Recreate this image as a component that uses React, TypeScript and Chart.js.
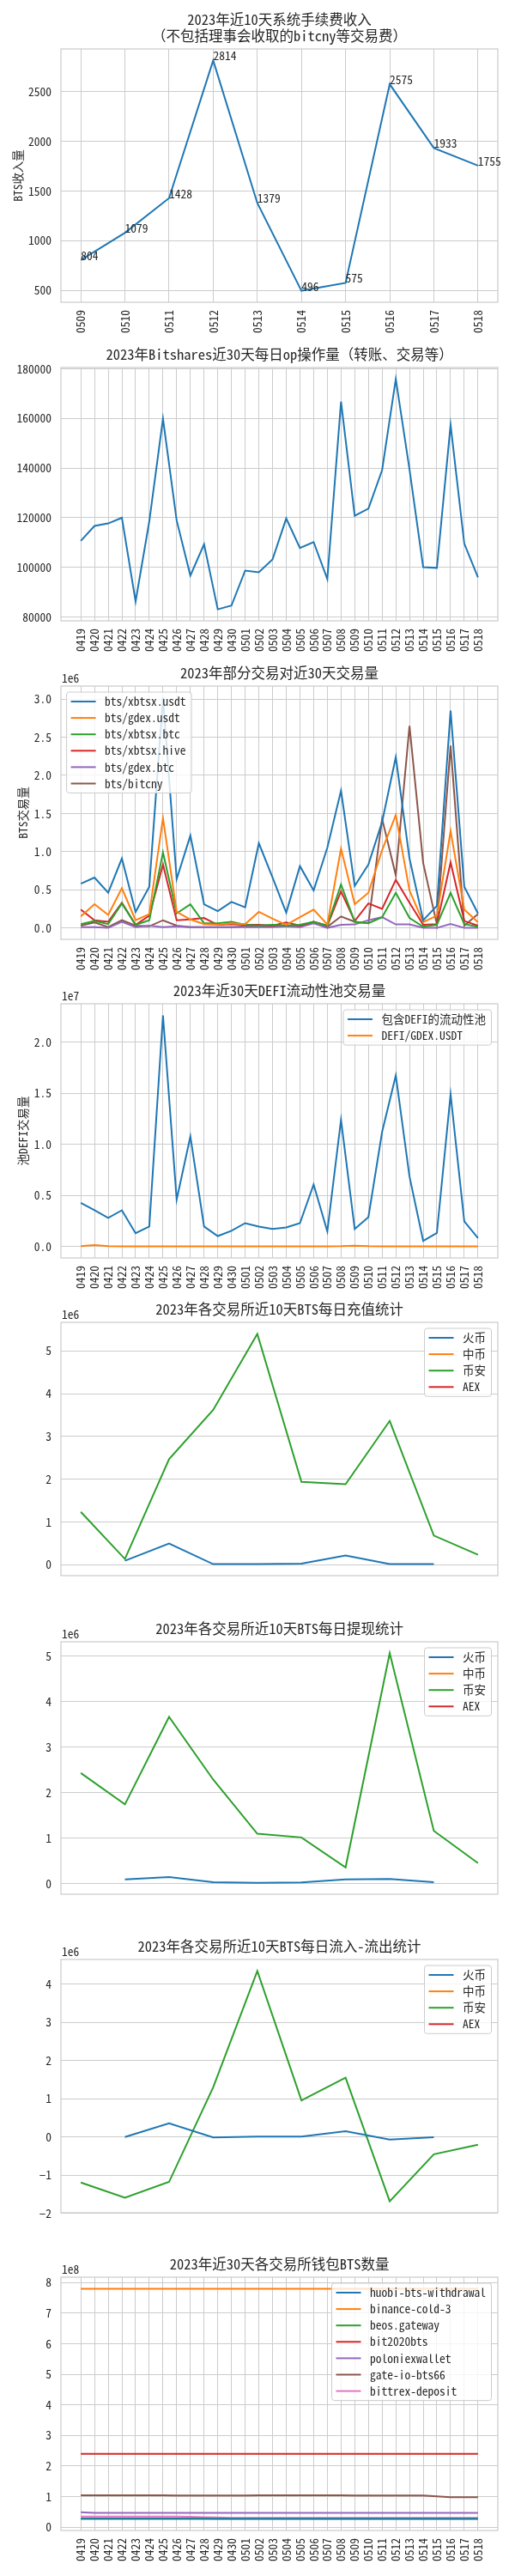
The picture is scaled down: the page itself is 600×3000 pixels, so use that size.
import React, { useEffect, useRef } from 'react';
import { Chart, registerables } from 'chart.js';

Chart.register(...registerables);

const FONT = "'Noto Sans Mono CJK SC', 'Noto Sans CJK SC', 'DejaVu Sans', sans-serif";
const TEXT = '#262626';
const GRID = '#cccccc';
const COLORS = ['#1f77b4', '#ff7f0e', '#2ca02c', '#d62728', '#9467bd', '#8c564b', '#e377c2'];
const PLOT_L = 71;
const PLOT_R = 580;

Chart.defaults.font.family = FONT;
Chart.defaults.color = TEXT;

// ---------- data ----------
const days10 = ['0509', '0510', '0511', '0512', '0513', '0514', '0515', '0516', '0517', '0518'];
const days30 = [
  '0419', '0420', '0421', '0422', '0423', '0424', '0425', '0426', '0427', '0428', '0429', '0430',
  '0501', '0502', '0503', '0504', '0505', '0506', '0507', '0508', '0509', '0510', '0511', '0512',
  '0513', '0514', '0515', '0516', '0517', '0518',
];

const feeIncome = [804, 1079, 1428, 2814, 1379, 496, 575, 2575, 1933, 1755];

const opCount = [
  110700, 116700, 117700, 120000, 86300, 118500, 159900, 118900, 96700, 109300, 83100, 84600,
  98700, 98050, 103200, 119700, 107800, 110200, 95300, 166800, 120800, 123700, 139200, 175900,
  139500, 100100, 99800, 157400, 109600, 96000,
];

// 1e6 units
const pairXbtsxUsdt = [0.58, 0.66, 0.46, 0.91, 0.21, 0.54, 3.02, 0.64, 1.21, 0.31, 0.22, 0.34, 0.27, 1.11, 0.66, 0.20, 0.81, 0.49, 1.05, 1.80, 0.55, 0.83, 1.39, 2.24, 0.91, 0.10, 0.29, 2.85, 0.54, 0.19];
const pairGdexUsdt = [0.15, 0.31, 0.17, 0.52, 0.10, 0.18, 1.44, 0.21, 0.11, 0.05, 0.04, 0.06, 0.05, 0.21, 0.12, 0.04, 0.14, 0.24, 0.045, 1.04, 0.31, 0.46, 1.02, 1.48, 0.49, 0.075, 0.16, 1.27, 0.24, 0.075];
const pairXbtsxBtc = [0.05, 0.09, 0.05, 0.32, 0.04, 0.10, 0.99, 0.19, 0.31, 0.06, 0.06, 0.08, 0.04, 0.03, 0.04, 0.03, 0.04, 0.08, 0.03, 0.57, 0.08, 0.06, 0.14, 0.46, 0.13, 0.015, 0.04, 0.46, 0.05, 0.015];
const pairXbtsxHive = [0.24, 0.10, 0.08, 0.33, 0.04, 0.16, 0.83, 0.10, 0.11, 0.13, 0.04, 0.05, 0.04, 0.04, 0.03, 0.07, 0.03, 0.08, 0.03, 0.48, 0.09, 0.32, 0.25, 0.63, 0.33, 0.04, 0.05, 0.86, 0.09, 0.03];
const pairGdexBtc = [0.01, 0.01, 0.0, 0.08, 0.01, 0.03, 0.01, 0.02, 0.01, 0.01, 0.01, 0.01, 0.01, 0.01, 0.01, 0.02, 0.01, 0.06, 0.0, 0.04, 0.045, 0.10, 0.14, 0.045, 0.045, 0.0, 0.0, 0.05, 0.0, 0.0];
const pairBitcny = [0.03, 0.07, 0.01, 0.10, 0.03, 0.02, 0.10, 0.03, 0.01, 0.01, 0.01, 0.01, 0.02, 0.02, 0.02, 0.03, 0.02, 0.08, 0.015, 0.15, 0.08, 0.06, 1.43, 0.69, 2.65, 0.85, 0.045, 2.39, 0.03, 0.18];

// 1e7 units
const poolDefiAll = [0.428, 0.355, 0.280, 0.355, 0.131, 0.196, 2.26, 0.46, 1.077, 0.196, 0.103, 0.154, 0.229, 0.196, 0.173, 0.187, 0.229, 0.607, 0.148, 1.24, 0.173, 0.288, 1.12, 1.673, 0.685, 0.056, 0.134, 1.488, 0.246, 0.084];
const poolDefiGdexUsdt = [0.004, 0.014, 0.004, 0.002, 0.002, 0.002, 0.002, 0.002, 0.002, 0.002, 0.002, 0.002, 0.002, 0.002, 0.002, 0.002, 0.002, 0.002, 0.002, 0.004, 0.009, 0.004, 0.002, 0.002, 0.002, 0.002, 0.002, 0.002, 0.002, 0.002];

// 1e6 units, 10 days
const depHuobi = [null, 0.093, 0.494, 0.013, 0.013, 0.027, 0.214, 0.013, 0.013, null];
const depZhongbi = [null, null, null, null, null, null, null, null, null, null];
const depBinance = [1.235, 0.134, 2.47, 3.62, 5.40, 1.936, 1.883, 3.364, 0.681, 0.234];
const depAex = [null, null, null, null, null, null, null, null, null, null];

const wdHuobi = [null, 0.094, 0.144, 0.031, 0.019, 0.025, 0.094, 0.100, 0.031, null];
const wdZhongbi = [null, null, null, null, null, null, null, null, null, null];
const wdBinance = [2.431, 1.742, 3.665, 2.287, 1.096, 1.015, 0.357, 5.063, 1.159, 0.451];
const wdAex = [null, null, null, null, null, null, null, null, null, null];

const netHuobi = [null, 0.0, 0.36, -0.01, 0.015, 0.015, 0.15, -0.067, -0.007, null];
const netZhongbi = [null, null, null, null, null, null, null, null, null, null];
const netBinance = [-1.189, -1.585, -1.174, 1.30, 4.344, 0.957, 1.555, -1.68, -0.45, -0.20];
const netAex = [null, null, null, null, null, null, null, null, null, null];

// 1e8 units, 30 days
const walHuobi = [0.27, 0.27, 0.27, 0.27, 0.27, 0.27, 0.27, 0.27, 0.27, 0.27, 0.27, 0.27, 0.27, 0.27, 0.27, 0.27, 0.27, 0.27, 0.27, 0.27, 0.27, 0.27, 0.27, 0.27, 0.27, 0.27, 0.27, 0.27, 0.27, 0.27];
const walBinanceCold = [7.80, 7.80, 7.80, 7.80, 7.80, 7.80, 7.80, 7.80, 7.80, 7.80, 7.80, 7.80, 7.80, 7.80, 7.80, 7.80, 7.80, 7.80, 7.80, 7.80, 7.80, 7.80, 7.80, 7.80, 7.80, 7.80, 7.80, 7.80, 7.80, 7.80];
const walBeos = [0.29, 0.29, 0.29, 0.29, 0.29, 0.29, 0.29, 0.29, 0.29, 0.29, 0.28, 0.28, 0.28, 0.28, 0.28, 0.28, 0.28, 0.28, 0.28, 0.28, 0.28, 0.28, 0.28, 0.28, 0.28, 0.28, 0.28, 0.28, 0.28, 0.28];
const walBit2020 = [2.40, 2.40, 2.40, 2.40, 2.40, 2.40, 2.40, 2.40, 2.40, 2.40, 2.40, 2.40, 2.40, 2.40, 2.40, 2.40, 2.40, 2.40, 2.40, 2.40, 2.40, 2.40, 2.40, 2.40, 2.40, 2.40, 2.40, 2.40, 2.40, 2.40];
const walPoloniex = [0.49, 0.47, 0.47, 0.47, 0.47, 0.47, 0.47, 0.47, 0.47, 0.47, 0.47, 0.47, 0.47, 0.47, 0.47, 0.47, 0.47, 0.47, 0.47, 0.47, 0.47, 0.47, 0.47, 0.47, 0.47, 0.47, 0.47, 0.47, 0.47, 0.47];
const walGateio = [1.045, 1.045, 1.045, 1.045, 1.045, 1.045, 1.045, 1.04, 1.04, 1.04, 1.04, 1.04, 1.04, 1.045, 1.045, 1.045, 1.045, 1.045, 1.045, 1.045, 1.04, 1.04, 1.04, 1.035, 1.035, 1.035, 1.01, 0.985, 0.985, 0.98];
const walBittrex = [0.35, 0.35, 0.35, 0.35, 0.35, 0.35, 0.35, 0.35, 0.34, 0.33, 0.32, 0.31, 0.31, 0.31, 0.31, 0.31, 0.31, 0.31, 0.31, 0.31, 0.31, 0.31, 0.31, 0.31, 0.31, 0.31, 0.31, 0.31, 0.31, 0.31];

// ---------- tick values ----------
const yTicksFee = [500, 1000, 1500, 2000, 2500];
const yTicksOps = [80000, 100000, 120000, 140000, 160000, 180000];
const yTicksPairs = [0, 0.5, 1.0, 1.5, 2.0, 2.5, 3.0];
const yTicksPool = [0, 0.5, 1.0, 1.5, 2.0];
const yTicksDep = [0, 1, 2, 3, 4, 5];
const yTicksWd = [0, 1, 2, 3, 4, 5];
const yTicksNet = [-2, -1, 0, 1, 2, 3, 4];
const yTicksWal = [0, 1, 2, 3, 4, 5, 6, 7, 8];

type Series = { label: string; data: (number | null)[] };
type Cfg = {
  top: number;
  height: number;
  plotTop: number;
  plotBottom: number;
  title: string[];
  labels: string[] | null;
  series: Series[];
  yTicks: number[];
  yFmt: (v: number) => string;
  offset?: string;
  yLabel?: { text: string; x: number };
  legend?: 'ul' | 'ur';
  annotate?: boolean;
  xGrid: boolean;
};

const fmtInt = (v: number) => (v < 0 ? '\u2212' + String(Math.abs(v)) : String(v));
const fmt1 = (v: number) => v.toFixed(1);

const exch = (a: (number | null)[], b: (number | null)[], c: (number | null)[], d: (number | null)[]): Series[] => [
  { label: '火币', data: a },
  { label: '中币', data: b },
  { label: '币安', data: c },
  { label: 'AEX', data: d },
];

const CHARTS: Cfg[] = [
  {
    top: 0, height: 398, plotTop: 57, plotBottom: 352,
    title: ['2023年近10天系统手续费收入', '（不包括理事会收取的bitcny等交易费）'],
    labels: days10,
    series: [{ label: 'fee', data: feeIncome }],
    yTicks: yTicksFee, yFmt: fmtInt,
    yLabel: { text: 'BTS收入量', x: 21 },
    annotate: true, xGrid: true,
  },
  {
    top: 398, height: 370, plotTop: 428, plotBottom: 723,
    title: ['2023年Bitshares近30天每日op操作量（转账、交易等）'],
    labels: days30,
    series: [{ label: 'op', data: opCount }],
    yTicks: yTicksOps, yFmt: fmtInt, xGrid: true,
  },
  {
    top: 768, height: 372, plotTop: 799, plotBottom: 1094,
    title: ['2023年部分交易对近30天交易量'],
    labels: days30,
    series: [
      { label: 'bts/xbtsx.usdt', data: pairXbtsxUsdt },
      { label: 'bts/gdex.usdt', data: pairGdexUsdt },
      { label: 'bts/xbtsx.btc', data: pairXbtsxBtc },
      { label: 'bts/xbtsx.hive', data: pairXbtsxHive },
      { label: 'bts/gdex.btc', data: pairGdexBtc },
      { label: 'bts/bitcny', data: pairBitcny },
    ],
    yTicks: yTicksPairs, yFmt: fmt1, offset: '1e6',
    yLabel: { text: 'BTS交易量', x: 27 }, legend: 'ul', xGrid: true,
  },
  {
    top: 1140, height: 370, plotTop: 1169, plotBottom: 1465,
    title: ['2023年近30天DEFI流动性池交易量'],
    labels: days30,
    series: [
      { label: '包含DEFI的流动性池', data: poolDefiAll },
      { label: 'DEFI/GDEX.USDT', data: poolDefiGdexUsdt },
    ],
    yTicks: yTicksPool, yFmt: fmt1, offset: '1e7',
    yLabel: { text: '池DEFI交易量', x: 27 }, legend: 'ur', xGrid: true,
  },
  {
    top: 1510, height: 370, plotTop: 1540, plotBottom: 1835,
    title: ['2023年各交易所近10天BTS每日充值统计'],
    labels: null,
    series: exch(depHuobi, depZhongbi, depBinance, depAex),
    yTicks: yTicksDep, yFmt: fmtInt, offset: '1e6', legend: 'ur', xGrid: false,
  },
  {
    top: 1880, height: 375, plotTop: 1912, plotBottom: 2206,
    title: ['2023年各交易所近10天BTS每日提现统计'],
    labels: null,
    series: exch(wdHuobi, wdZhongbi, wdBinance, wdAex),
    yTicks: yTicksWd, yFmt: fmtInt, offset: '1e6', legend: 'ur', xGrid: false,
  },
  {
    top: 2255, height: 370, plotTop: 2282, plotBottom: 2577,
    title: ['2023年各交易所近10天BTS每日流入-流出统计'],
    labels: null,
    series: exch(netHuobi, netZhongbi, netBinance, netAex),
    yTicks: yTicksNet, yFmt: fmtInt, offset: '1e6', legend: 'ur', xGrid: false,
  },
  {
    top: 2625, height: 375, plotTop: 2652, plotBottom: 2947,
    title: ['2023年近30天各交易所钱包BTS数量'],
    labels: days30,
    series: [
      { label: 'huobi-bts-withdrawal', data: walHuobi },
      { label: 'binance-cold-3', data: walBinanceCold },
      { label: 'beos.gateway', data: walBeos },
      { label: 'bit2020bts', data: walBit2020 },
      { label: 'poloniexwallet', data: walPoloniex },
      { label: 'gate-io-bts66', data: walGateio },
      { label: 'bittrex-deposit', data: walBittrex },
    ],
    yTicks: yTicksWal, yFmt: fmtInt, offset: '1e8', legend: 'ur', xGrid: true,
  },
];

function roundRectPath(ctx: CanvasRenderingContext2D, x: number, y: number, w: number, h: number, r: number) {
  ctx.beginPath();
  ctx.moveTo(x + r, y);
  ctx.lineTo(x + w - r, y);
  ctx.arcTo(x + w, y, x + w, y + r, r);
  ctx.lineTo(x + w, y + h - r);
  ctx.arcTo(x + w, y + h, x + w - r, y + h, r);
  ctx.lineTo(x + r, y + h);
  ctx.arcTo(x, y + h, x, y + h - r, r);
  ctx.lineTo(x, y + r);
  ctx.arcTo(x, y, x + r, y, r);
  ctx.closePath();
}

function makeDecor(cfg: Cfg) {
  return {
    id: 'decor',
    afterDraw(chart: any) {
      const ctx: CanvasRenderingContext2D = chart.ctx;
      const a = chart.chartArea;
      ctx.save();
      // spines
      ctx.strokeStyle = GRID;
      ctx.lineWidth = 1.25;
      ctx.strokeRect(a.left, a.top, a.right - a.left, a.bottom - a.top);

      // point annotations
      if (cfg.annotate) {
        const xs = chart.scales.x;
        const ys = chart.scales.y;
        ctx.fillStyle = TEXT;
        ctx.font = `13.5px ${FONT}`;
        ctx.textAlign = 'left';
        ctx.textBaseline = 'alphabetic';
        cfg.series[0].data.forEach((v, i) => {
          if (v === null) return;
          ctx.fillText(String(v), xs.getPixelForValue(i), ys.getPixelForValue(v));
        });
      }

      // legend
      if (cfg.legend) {
        ctx.font = `13.5px ${FONT}`;
        const items = cfg.series;
        const tw = Math.max(...items.map((s) => ctx.measureText(s.label).width));
        const w = 5 + 29 + 10.5 + tw + 6.5;
        const rowH = 19.1;
        const h = 22 + (items.length - 1) * rowH;
        const x0 = cfg.legend === 'ul' ? a.left + 6.6 : a.right - 7.5 - w;
        const y0 = a.top + 7;
        roundRectPath(ctx, x0, y0, w, h, 3);
        ctx.fillStyle = 'rgba(255,255,255,0.8)';
        ctx.fill();
        ctx.strokeStyle = GRID;
        ctx.lineWidth = 1;
        ctx.stroke();
        items.forEach((s, i) => {
          const cy = y0 + 11 + i * rowH;
          ctx.strokeStyle = COLORS[i];
          ctx.lineWidth = 2;
          ctx.beginPath();
          ctx.moveTo(x0 + 5, cy);
          ctx.lineTo(x0 + 34, cy);
          ctx.stroke();
          ctx.fillStyle = TEXT;
          ctx.textAlign = 'left';
          ctx.textBaseline = 'middle';
          ctx.fillText(s.label, x0 + 44.5, cy);
        });
      }

      // title
      ctx.fillStyle = TEXT;
      ctx.font = `16.5px ${FONT}`;
      ctx.textAlign = 'center';
      ctx.textBaseline = 'middle';
      const cx = (a.left + a.right) / 2;
      const n = cfg.title.length;
      cfg.title.forEach((t, i) => ctx.fillText(t, cx, a.top - 15 - (n - 1 - i) * 19));

      // offset text
      if (cfg.offset) {
        ctx.font = `13.5px ${FONT}`;
        ctx.textAlign = 'left';
        ctx.textBaseline = 'alphabetic';
        ctx.fillText(cfg.offset, a.left + 1, a.top - 4);
      }

      // y label
      if (cfg.yLabel) {
        ctx.font = `13.5px ${FONT}`;
        ctx.translate(cfg.yLabel.x, (a.top + a.bottom) / 2);
        ctx.rotate(-Math.PI / 2);
        ctx.textAlign = 'center';
        ctx.textBaseline = 'middle';
        ctx.fillText(cfg.yLabel.text, 0, 0);
      }
      ctx.restore();
    },
  };
}

function LineChart({ cfg }: { cfg: Cfg }) {
  const ref = useRef<HTMLCanvasElement | null>(null);
  useEffect(() => {
    const canvas = ref.current;
    if (!canvas) return;
    const n = cfg.labels ? cfg.labels.length : cfg.series[0].data.length;
    const all = cfg.series.flatMap((s) => s.data).filter((v) => v !== null) as number[];
    const lo = Math.min(...all);
    const hi = Math.max(...all);
    const pad = (hi - lo) * 0.05;
    const xpad = (n - 1) * 0.05;
    const chart = new Chart(canvas, {
      type: 'line',
      data: {
        datasets: cfg.series.map((s, i) => ({
          label: s.label,
          data: s.data.map((v, j) => ({ x: j, y: v })),
          borderColor: COLORS[i],
          backgroundColor: COLORS[i],
          borderWidth: 2,
          pointRadius: 0,
          tension: 0,
          fill: false,
          spanGaps: false,
        })),
      },
      options: {
        responsive: false,
        animation: false,
        devicePixelRatio: 1,
        events: [],
        layout: { padding: { top: cfg.plotTop - cfg.top, left: 0, right: 600 - PLOT_R, bottom: 0 } },
        plugins: { legend: { display: false }, title: { display: false }, tooltip: { enabled: false } },
        scales: {
          x: {
            type: 'linear',
            min: -xpad,
            max: n - 1 + xpad,
            border: { display: false },
            grid: { display: cfg.xGrid, color: GRID, lineWidth: 1, drawTicks: false },
            ticks: {
              display: !!cfg.labels,
              autoSkip: false,
              maxRotation: 90,
              minRotation: 90,
              padding: 9,
              color: TEXT,
              font: { size: 13.5, family: FONT },
              callback: (v: any) => (cfg.labels ? cfg.labels[Number(v)] ?? '' : ''),
            },
            afterBuildTicks: (s: any) => {
              s.ticks = Array.from({ length: n }, (_, i) => ({ value: i }));
            },
            afterFit: (s: any) => {
              s.height = cfg.top + cfg.height - cfg.plotBottom;
            },
          },
          y: {
            type: 'linear',
            min: lo - pad,
            max: hi + pad,
            border: { display: false },
            grid: { color: GRID, lineWidth: 1, drawTicks: false },
            ticks: {
              padding: 11,
              color: TEXT,
              font: { size: 13.5, family: FONT },
              callback: (v: any) => cfg.yFmt(Number(v)),
            },
            afterBuildTicks: (s: any) => {
              s.ticks = cfg.yTicks.map((v) => ({ value: v }));
            },
            afterFit: (s: any) => {
              s.width = PLOT_L;
            },
          },
        },
      } as any,
      plugins: [makeDecor(cfg)],
    });
    return () => chart.destroy();
  }, [cfg]);
  return (
    <canvas
      ref={ref}
      width={600}
      height={cfg.height}
      style={{ position: 'absolute', left: 0, top: cfg.top, width: 600, height: cfg.height }}
    />
  );
}

export default function App() {
  return (
    <div style={{ position: 'absolute', left: 0, top: 0, width: 600, height: 3000, background: '#ffffff' }}>
      {CHARTS.map((cfg, i) => (
        <LineChart key={i} cfg={cfg} />
      ))}
    </div>
  );
}
